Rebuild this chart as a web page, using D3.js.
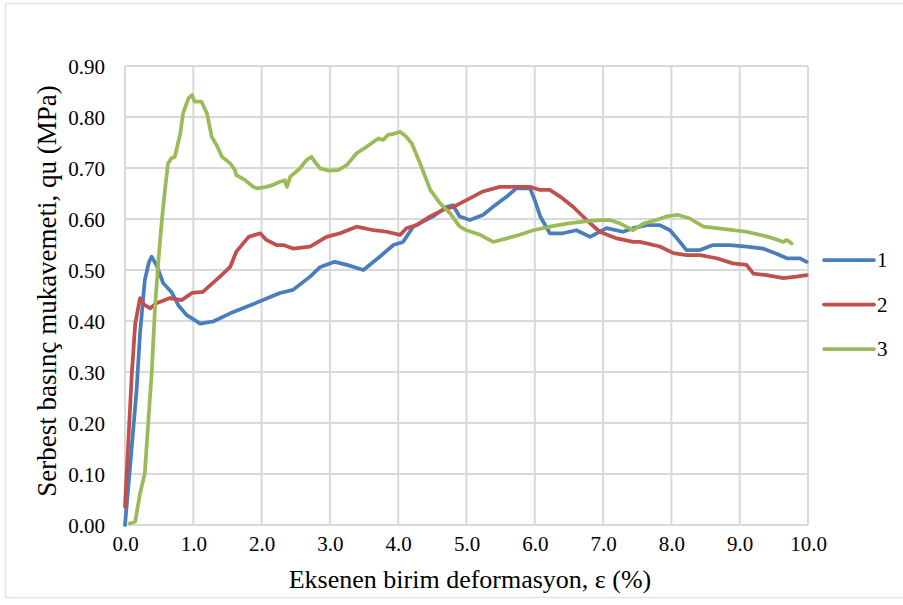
<!DOCTYPE html>
<html>
<head>
<meta charset="utf-8">
<script src="https://cdn.jsdelivr.net/npm/d3@7"></script>
<style>
  body { margin: 0; background: #fff; }
</style>
</head>
<body>
<div id="chart"></div>
<script>
// strain (%) and strength (MPa)
var strain1 = [0, 0.07, 0.17, 0.22, 0.29, 0.35, 0.39, 0.46, 0.56, 0.68, 0.78, 0.90, 1.10, 1.29, 1.54, 1.78, 2.02, 2.27, 2.46, 2.71, 2.86, 3.07, 3.25, 3.49, 3.73, 3.93, 4.07, 4.22, 4.51, 4.71, 4.80, 4.90, 5.05, 5.24, 5.39, 5.59, 5.73, 5.93, 6.00, 6.08, 6.22, 6.41, 6.61, 6.81, 7.05, 7.29, 7.44, 7.64, 7.83, 7.98, 8.10, 8.22, 8.42, 8.61, 8.86, 9.10, 9.34, 9.54, 9.69, 9.88, 9.98];
var stress1 = [0, 0.108, 0.265, 0.376, 0.48, 0.515, 0.526, 0.51, 0.474, 0.457, 0.431, 0.412, 0.395, 0.399, 0.415, 0.428, 0.441, 0.455, 0.461, 0.487, 0.506, 0.516, 0.51, 0.50, 0.526, 0.549, 0.555, 0.585, 0.605, 0.624, 0.627, 0.605, 0.598, 0.608, 0.624, 0.644, 0.66, 0.66, 0.637, 0.605, 0.572, 0.572, 0.578, 0.565, 0.582, 0.575, 0.582, 0.588, 0.588, 0.578, 0.559, 0.539, 0.539, 0.549, 0.549, 0.546, 0.542, 0.532, 0.523, 0.523, 0.516];

var strain2 = [0, 0.05, 0.10, 0.15, 0.22, 0.29, 0.37, 0.46, 0.66, 0.83, 0.98, 1.14, 1.39, 1.54, 1.63, 1.81, 1.98, 2.07, 2.22, 2.32, 2.46, 2.71, 2.95, 3.15, 3.39, 3.64, 3.83, 4.03, 4.12, 4.27, 4.47, 4.66, 4.81, 5.00, 5.24, 5.49, 5.73, 5.93, 6.08, 6.22, 6.37, 6.56, 6.76, 6.95, 7.20, 7.44, 7.54, 7.83, 8.03, 8.22, 8.42, 8.66, 8.90, 9.10, 9.20, 9.39, 9.64, 9.83, 9.98];
var stress2 = [0.036, 0.167, 0.297, 0.395, 0.445, 0.431, 0.425, 0.435, 0.445, 0.441, 0.455, 0.457, 0.487, 0.506, 0.536, 0.565, 0.572, 0.559, 0.549, 0.549, 0.542, 0.546, 0.565, 0.572, 0.585, 0.578, 0.575, 0.569, 0.582, 0.588, 0.605, 0.618, 0.624, 0.637, 0.654, 0.663, 0.663, 0.663, 0.657, 0.657, 0.644, 0.624, 0.598, 0.575, 0.562, 0.555, 0.555, 0.546, 0.533, 0.529, 0.529, 0.523, 0.513, 0.510, 0.493, 0.490, 0.484, 0.487, 0.490];

var strain3 = [0.07, 0.15, 0.22, 0.29, 0.34, 0.39, 0.44, 0.49, 0.54, 0.59, 0.63, 0.68, 0.73, 0.81, 0.85, 0.93, 0.98, 1.02, 1.12, 1.20, 1.27, 1.34, 1.42, 1.54, 1.61, 1.63, 1.76, 1.88, 1.93, 2.07, 2.17, 2.27, 2.34, 2.37, 2.42, 2.56, 2.66, 2.73, 2.78, 2.86, 2.98, 3.12, 3.25, 3.39, 3.54, 3.71, 3.78, 3.85, 3.93, 4.03, 4.12, 4.20, 4.32, 4.47, 4.61, 4.76, 4.90, 5.00, 5.20, 5.39, 5.59, 5.78, 5.98, 6.22, 6.47, 6.71, 6.95, 7.10, 7.25, 7.44, 7.59, 7.78, 7.93, 8.10, 8.27, 8.47, 8.66, 8.90, 9.10, 9.30, 9.49, 9.64, 9.69, 9.76];
var stress3 = [0.003, 0.007, 0.062, 0.101, 0.20, 0.297, 0.428, 0.52, 0.598, 0.663, 0.709, 0.719, 0.722, 0.768, 0.807, 0.837, 0.843, 0.830, 0.830, 0.807, 0.761, 0.745, 0.722, 0.709, 0.696, 0.686, 0.676, 0.663, 0.66, 0.663, 0.667, 0.673, 0.676, 0.663, 0.683, 0.699, 0.716, 0.722, 0.712, 0.699, 0.695, 0.696, 0.706, 0.729, 0.742, 0.758, 0.755, 0.765, 0.767, 0.771, 0.761, 0.748, 0.709, 0.657, 0.631, 0.611, 0.585, 0.578, 0.569, 0.555, 0.562, 0.569, 0.578, 0.585, 0.591, 0.595, 0.598, 0.598, 0.591, 0.578, 0.591, 0.598, 0.605, 0.608, 0.601, 0.585, 0.582, 0.578, 0.575, 0.569, 0.562, 0.555, 0.559, 0.552];

var seriesNames = ["1", "2", "3"];
var seriesColors = ["#4a7ebb", "#c0504d", "#9bbb59"];
var xTicks = [0, 1, 2, 3, 4, 5, 6, 7, 8, 9, 10];
var yTicks = [0, 0.1, 0.2, 0.3, 0.4, 0.5, 0.6, 0.7, 0.8, 0.9];

var FONT = "'Liberation Serif', 'Times New Roman', serif";

function init() {
    var width = 903, height = 605;
    var margin = { top: 66, right: 95, bottom: 80, left: 125 },
        w = width - margin.left - margin.right,
        h = height - margin.top - margin.bottom;

    var svg = d3.select("#chart").append("svg")
        .attr("width", width)
        .attr("height", height)
        .style("font-family", FONT);

    // outer chart border
    svg.append("rect")
        .attr("x", 5.5).attr("y", 3.5)
        .attr("width", width).attr("height", 594)
        .attr("fill", "none")
        .attr("stroke", "#e9e4d6")
        .attr("stroke-width", 1.5);

    var g = svg.append("g")
        .attr("transform", "translate(" + margin.left + "," + margin.top + ")");

    var xScale = d3.scaleLinear().domain([0, 10]).range([0, w]);
    var yScale = d3.scaleLinear().domain([0, 0.9]).range([h, 0]);

    // grid
    g.selectAll(".hgrid").data(yTicks).enter().append("line")
        .attr("x1", 0).attr("x2", w)
        .attr("y1", function(d) { return yScale(d); })
        .attr("y2", function(d) { return yScale(d); })
        .attr("stroke", "#d9d9d9").attr("stroke-width", 2);
    g.selectAll(".vgrid").data(xTicks).enter().append("line")
        .attr("y1", 0).attr("y2", h)
        .attr("x1", function(d) { return xScale(d); })
        .attr("x2", function(d) { return xScale(d); })
        .attr("stroke", "#d9d9d9").attr("stroke-width", 2);

    // axes (labels only, lines come from grid)
    var yAxis = d3.axisLeft(yScale).tickValues(yTicks)
        .tickFormat(d3.format(".2f")).tickSize(0).tickPadding(20);
    var ya = g.append("g").call(yAxis).attr("font-family", null).attr("font-size", null);
    ya.select(".domain").remove();
    ya.selectAll("text")
        .style("font-family", FONT).style("font-size", "21px")
        .attr("fill", "#000").attr("dy", "0.35em");

    var xAxis = d3.axisBottom(xScale).tickValues(xTicks)
        .tickFormat(d3.format(".1f")).tickSize(0).tickPadding(20);
    var xa = g.append("g").attr("transform", "translate(0," + h + ")").call(xAxis)
        .attr("font-family", null).attr("font-size", null);
    xa.select(".domain").remove();
    xa.selectAll("text")
        .style("font-family", FONT).style("font-size", "21px")
        .attr("fill", "#000").attr("dy", "0.3em");

    svg.append("text")
        .attr("x", 470).attr("y", 588)
        .attr("text-anchor", "middle")
        .style("font-family", FONT)
        .style("font-size", "26px")
        .text("Eksenen birim deformasyon, ε (%)");

    svg.append("text")
        .attr("transform", "translate(47,291) rotate(-90)")
        .attr("text-anchor", "middle")
        .attr("dy", "0.35em")
        .style("font-family", FONT)
        .style("font-size", "27px")
        .text("Serbest basınç mukavemeti, qu (MPa)");

    var data = [
        d3.zip(strain1, stress1),
        d3.zip(strain2, stress2),
        d3.zip(strain3, stress3)
    ];

    var line = d3.line()
        .x(function(d) { return xScale(d[0]); })
        .y(function(d) { return yScale(d[1]); });

    g.selectAll(".series").data(data).enter().append("path")
        .attr("d", line)
        .attr("fill", "none")
        .attr("stroke", function(d, i) { return seriesColors[i]; })
        .attr("stroke-width", 3.75)
        .attr("stroke-linejoin", "round")
        .attr("stroke-linecap", "round");

    // legend
    var legend = svg.selectAll(".legend").data(seriesNames).enter().append("g")
        .attr("transform", function(d, i) { return "translate(824," + (260 + i * 44.5) + ")"; });
    legend.append("line")
        .attr("x1", 0).attr("x2", 50)
        .attr("stroke", function(d, i) { return seriesColors[i]; })
        .attr("stroke-width", 3.75)
        .attr("stroke-linecap", "round");
    legend.append("text")
        .attr("x", 53).attr("dy", "0.35em")
        .style("font-family", FONT)
        .style("font-size", "21px")
        .text(function(d) { return d; });
}

window.addEventListener("load", init);
</script>
</body>
</html>
